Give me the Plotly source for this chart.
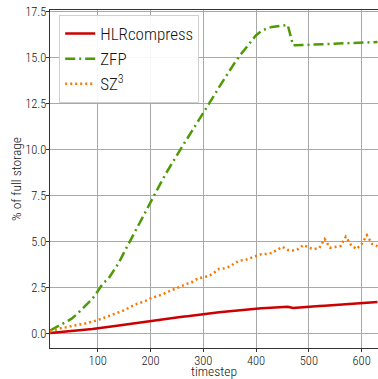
import plotly.graph_objects as go

# timesteps sampled every 10 steps
timestep = list(range(10, 640, 10))

hlrcompress = [0.02, 0.04, 0.06, 0.08, 0.11, 0.14, 0.17, 0.20, 0.23, 0.26,
               0.30, 0.34, 0.38, 0.42, 0.46, 0.50, 0.55, 0.60, 0.64, 0.69,
               0.72, 0.76, 0.80, 0.84, 0.87, 0.90, 0.93, 0.97, 1.01, 1.05,
               1.08, 1.11, 1.14, 1.17, 1.20, 1.24, 1.28, 1.30, 1.32, 1.34,
               1.36, 1.38, 1.39, 1.40, 1.42, 1.44, 1.37, 1.40, 1.42, 1.44,
               1.46, 1.48, 1.50, 1.52, 1.54, 1.56, 1.58, 1.60, 1.62, 1.63,
               1.65, 1.67, 1.70]

zfp = [0.15, 0.30, 0.45, 0.60, 0.78, 1.02, 1.32, 1.60, 1.88, 2.28,
       2.72, 2.95, 3.38, 3.84, 4.40, 4.95, 5.50, 6.05, 6.62, 7.15,
       7.68, 8.20, 8.72, 9.22, 9.70, 10.15, 10.60, 11.05, 11.50, 11.95,
       12.42, 12.90, 13.38, 13.85, 14.30, 14.72, 15.12, 15.50, 15.88, 16.20,
       16.42, 16.56, 16.65, 16.70, 16.73, 16.76, 15.65, 15.66, 15.67, 15.70,
       15.70, 15.72, 15.73, 15.74, 15.75, 15.76, 15.78, 15.78, 15.79, 15.80,
       15.82, 15.82, 15.83]

sz3 = [0.10, 0.20, 0.28, 0.33, 0.40, 0.45, 0.50, 0.55, 0.62, 0.72,
       0.82, 0.92, 1.02, 1.12, 1.25, 1.40, 1.55, 1.65, 1.75, 1.90,
       1.98, 2.08, 2.22, 2.35, 2.45, 2.58, 2.70, 2.80, 2.98, 3.05,
       3.10, 3.28, 3.50, 3.54, 3.62, 3.82, 3.96, 3.99, 4.08, 4.20,
       4.30, 4.31, 4.37, 4.53, 4.70, 4.53, 4.50, 4.58, 4.80, 4.65,
       4.58, 4.64, 5.12, 4.65, 4.70, 4.74, 5.25, 4.80, 4.58, 4.85,
       5.33, 4.85, 4.73]

series_names = ["HLRcompress", "ZFP", "SZ<sup>3</sup>"]
y_ticks = [0.0, 2.5, 5.0, 7.5, 10.0, 12.5, 15.0, 17.5]
x_ticks = [100, 200, 300, 400, 500, 600]

FONT = "Roboto Condensed, Liberation Sans Narrow, sans-serif"
TEXT = "#141414"

fig = go.Figure()
fig.add_trace(go.Scatter(x=timestep, y=hlrcompress, mode="lines", name=series_names[0],
                         line=dict(color="#cc0000", width=2.5)))
fig.add_trace(go.Scatter(x=timestep, y=zfp, mode="lines", name=series_names[1],
                         line=dict(color="#4e9a06", width=2.5, dash="10px,4px,2px,4px")))
fig.add_trace(go.Scatter(x=timestep, y=sz3, mode="lines", name=series_names[2],
                         line=dict(color="#f57900", width=2.5, dash="2px,3px")))

fig.update_layout(
    width=378, height=379,
    margin=dict(l=50, r=0, t=10, b=31),
    paper_bgcolor="white", plot_bgcolor="white",
    font=dict(family=FONT, color=TEXT, size=12.5, weight=350),
    showlegend=True,
    legend=dict(x=0.028, y=0.985, xanchor="left", yanchor="top",
                bgcolor="rgba(255,255,255,0.9)", bordercolor="#d0d0d0", borderwidth=1,
                font=dict(family=FONT, size=17, color=TEXT, weight=350),
                tracegroupgap=0, itemwidth=30),
    xaxis=dict(range=[9.6, 631], tickvals=x_ticks, showgrid=True,
               gridcolor="#a8a8a8", gridwidth=1.3, showline=True, linecolor="#333333",
               linewidth=1.2, mirror=True, ticks="outside", ticklen=3, tickcolor="#333333",
               zeroline=False, tickfont=dict(size=12.5, weight=350), ticklabelstandoff=-2,
               title=dict(text="timestep", font=dict(size=13.5, weight=350), standoff=0)),
    yaxis=dict(range=[-0.8, 17.57], tickvals=y_ticks, tickformat=".1f", showgrid=True,
               gridcolor="#a8a8a8", gridwidth=1.3, showline=True, linecolor="#333333",
               linewidth=1.2, ticks="outside", ticklen=3, tickcolor="#333333",
               zeroline=False, tickfont=dict(size=12.5, weight=350), ticklabelstandoff=-3,
               title=dict(text="% of full storage", font=dict(size=13.5, weight=350), standoff=0)),
)

fig.write_html("out.html")
